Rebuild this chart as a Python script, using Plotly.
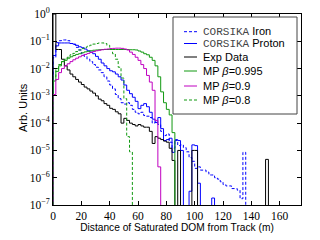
import plotly.graph_objects as go

# ---------------- data (histograms, 2 m bins starting at 0 m) ----------------
BIN_WIDTH = 2.0

iron = [0.025, 0.089, 0.105, 0.112, 0.112, 0.105, 0.083, 0.076, 0.060, 0.048,
        0.035, 0.028, 0.022, 0.018, 0.014, 0.0112, 0.0089, 0.0071, 0.0050, 0.0035,
        0.0025, 0.0018, 0.00112, 7.9e-4, 5.6e-4, 5.0e-4, 5.6e-4, 4.5e-4, 3.2e-4, 2.5e-4,
        2.2e-4, 2.5e-4, 1.9e-4, 1.8e-4, 1.6e-4, 1.0e-4, 1.1e-4, 8.9e-5, 5.0e-5, 3.5e-5,
        4.0e-5, 2.0e-5, 1.2e-5, 2.5e-5, 1.5e-5, 1.6e-5, 1.26e-5, 8.9e-6, 5.5e-6, 4.0e-6,
        2.2e-6, 2.5e-6, 1.9e-6, 1.9e-6, 1.6e-6, 1.26e-6, 1.26e-6, 1.0e-6, 8.9e-7, 7.1e-7,
        5.6e-7, 5.0e-7, 5.0e-7, 4.0e-7, 4.0e-7, 3.5e-7, 1.7e-7, 8.5e-6, 0]

proton = [0.030, 0.068, 0.087, 0.087, 0.087, 0.087, 0.083, 0.079, 0.071, 0.063,
          0.058, 0.052, 0.045, 0.040, 0.035, 0.028, 0.022, 0.016, 0.0126, 0.010,
          0.0083, 0.0076, 0.0063, 0.0050, 0.0038, 0.0025, 0.0016, 0.0012, 8.9e-4, 6.3e-4,
          3.4e-4, 4.5e-4, 5.2e-4, 4.0e-4, 2.5e-4, 1.4e-4, 1.05e-4, 1.6e-4, 6.3e-5, 2.3e-5,
          2.5e-5, 2.8e-5, 8.5e-6, 2.3e-5, 2.3e-5, 1.0e-5, 0, 0, 3.2e-7, 1.6e-5,
          1.5e-5, 6.3e-7, 0, 0, 0, 0, 1.8e-7, 0]

exp_data = [1.0, 0.050, 0.050, 0.022, 0.0126, 0.0089, 0.0063, 0.0050, 0.0040, 0.0032,
            0.0026, 0.0021, 0.0018, 0.0015, 0.00126, 1.0e-3, 7.6e-4, 6.6e-4, 5.2e-4, 4.5e-4,
            3.5e-4, 3.2e-4, 2.6e-4, 2.2e-4, 1.0e-4, 1.5e-4, 1.26e-4, 1.0e-4, 8.9e-5, 7.9e-5,
            8.9e-5, 7.9e-5, 7.1e-5, 7.1e-5, 5.0e-5, 1.8e-5, 3.2e-5, 2.8e-5, 2.5e-5, 2.2e-5,
            2.0e-5, 1.2e-5, 4.3e-6, 0, 1.0e-5, 0, 0, 0, 0, 1.0e-5,
            1.0e-5, 0, 0, 0, 0, 0, 0, 0, 0, 0,
            0, 0, 0, 0, 0, 0, 0, 0, 0, 0,
            0, 0, 0, 0, 0, 4.7e-6, 0]

mp_0995 = [0.0035, 0.0079, 0.0126, 0.018, 0.020, 0.024, 0.027, 0.030, 0.033, 0.035,
           0.038, 0.041, 0.043, 0.045, 0.047, 0.048, 0.049, 0.050, 0.050, 0.050,
           0.050, 0.050, 0.050, 0.050, 0.050, 0.050, 0.050, 0.049, 0.049, 0.048,
           0.044, 0.040, 0.035, 0.032, 0.026, 0.020, 0.0126, 0.0050, 0.0014, 5.6e-4,
           3.2e-4, 2.0e-4, 4.5e-5, 0]

mp_09 = [0.00112, 0.0040, 0.0071, 0.010, 0.0126, 0.015, 0.018, 0.021, 0.024, 0.027,
         0.030, 0.033, 0.036, 0.039, 0.042, 0.045, 0.047, 0.049, 0.051, 0.052,
         0.054, 0.055, 0.056, 0.056, 0.055, 0.052, 0.048, 0.040, 0.033, 0.026,
         0.020, 0.014, 0.010, 0.0056, 0.0032, 0.0016, 1.26e-4, 2.5e-6, 0]

mp_08 = [0.0050, 0.010, 0.014, 0.018, 0.022, 0.026, 0.032, 0.036, 0.042, 0.048,
         0.054, 0.060, 0.066, 0.072, 0.079, 0.083, 0.087, 0.087, 0.083, 0.071,
         0.050, 0.035, 0.022, 0.0112, 0.0045, 7.9e-4, 3.2e-5, 8.9e-6, 0]

x_tick_vals = [0, 20, 40, 60, 80, 100, 120, 140, 160]
y_tick_vals = [1, 1e-1, 1e-2, 1e-3, 1e-4, 1e-5, 1e-6, 1e-7]
y_tick_text = ["10<sup>0</sup>", "10<sup>−1</sup>", "10<sup>−2</sup>", "10<sup>−3</sup>",
               "10<sup>−4</sup>", "10<sup>−5</sup>", "10<sup>−6</sup>", "10<sup>−7</sup>"]

legend_labels = ['<span style="font-family:Liberation Mono;color:#444444">CORSIKA</span> Iron',
                 '<span style="font-family:Liberation Mono;color:#444444">CORSIKA</span> Proton',
                 'Exp Data',
                 'MP <i>β</i>=0.995',
                 'MP <i>β</i>=0.9',
                 'MP <i>β</i>=0.8']

# ---------------- styling ----------------
BLUE = "#0000ff"
BLACK = "#000000"
GREEN = "#119911"
MAGENTA = "#c000c0"
series = [
    (iron, BLUE, "3px,2px"),
    (proton, BLUE, "solid"),
    (exp_data, BLACK, "solid"),
    (mp_0995, GREEN, "solid"),
    (mp_09, MAGENTA, "solid"),
    (mp_08, GREEN, "3px,2px"),
]

FLOOR = 1e-9


def step_xy(values):
    n = len(values)
    edges = [i * BIN_WIDTH for i in range(n + 1)]
    vals = [v if v > 0 else FLOOR for v in values]
    xs = [edges[0]] + edges[:n] + [edges[n], edges[n]]
    ys = [FLOOR] + vals + [vals[-1], FLOOR]
    return xs, ys


fig = go.Figure()
for vals, col, dash in series:
    xs, ys = step_xy(vals)
    fig.add_trace(go.Scatter(x=xs, y=ys, mode="lines", line_shape="hv",
                             line=dict(color=col, width=1, dash=dash),
                             showlegend=False, hoverinfo="skip"))

L, R, T, B = 53, 19, 14, 35
W, H = 320, 240
PW, PH = W - L - R, H - T - B


def px_x(p):
    return (p - L) / PW


def px_y(p):
    return (H - B - p) / PH


shapes = [dict(type="rect", xref="paper", yref="paper",
               x0=px_x(173), x1=px_x(297), y0=px_y(114), y1=px_y(17),
               fillcolor="white", line=dict(color="#444444", width=1), layer="above")]
annotations = []
row_y = [31.7, 43.5, 57, 71, 86, 100]
for (vals, col, dash), label, ry in zip(series, legend_labels, row_y):
    shapes.append(dict(type="line", xref="paper", yref="paper",
                       x0=px_x(184), x1=px_x(197), y0=px_y(ry), y1=px_y(ry),
                       line=dict(color=col, width=1, dash=dash), layer="above"))
    annotations.append(dict(xref="paper", yref="paper", x=px_x(201), y=px_y(ry),
                            xanchor="left", yanchor="middle", showarrow=False,
                            text=label, font=dict(family="Liberation Sans", size=11, color="black")))

# y-axis title placed as a rotated annotation
annotations.append(dict(xref="paper", yref="paper", x=px_x(23), y=px_y(108),
                        xanchor="center", yanchor="middle", showarrow=False, textangle=-90,
                        text="Arb. Units", font=dict(family="Liberation Sans", size=11, color="black")))

axis_common = dict(showline=True, linecolor="black", linewidth=1, mirror="ticks",
                   ticks="inside", ticklen=4, tickcolor="black", showgrid=False,
                   zeroline=False, automargin=False,
                   tickfont=dict(family="Liberation Serif", size=11.5, color="black"))

fig.update_layout(
    width=W, height=H, margin=dict(l=L, r=R, t=T, b=B),
    paper_bgcolor="white", plot_bgcolor="white",
    shapes=shapes, annotations=annotations,
    xaxis=dict(range=[0, 175], tickvals=x_tick_vals,
               title=dict(text="Distance of Saturated DOM from Track (m)", standoff=0,
                          font=dict(family="Liberation Sans", size=10.2, color="black")),
               **axis_common),
    yaxis=dict(type="log", range=[-7, 0], tickvals=y_tick_vals, ticktext=y_tick_text,
               **axis_common),
)

fig.write_html("out.html", config={"displayModeBar": False, "staticPlot": True},
               post_script="document.body.style.margin='0';document.body.style.padding='0';")
